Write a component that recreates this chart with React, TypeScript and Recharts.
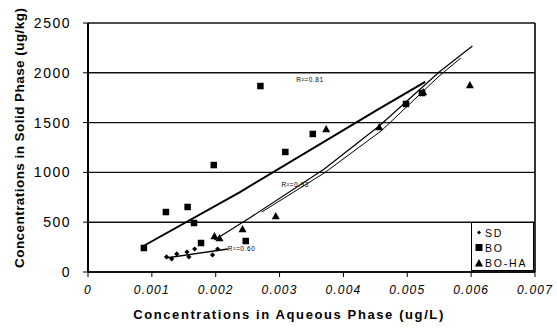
import React from 'react';
import { ScatterChart, Scatter, XAxis, YAxis, CartesianGrid, ReferenceLine, Label } from 'recharts';

const FONT = "Arial, 'Liberation Sans', sans-serif";

const xTicks = [0, 0.001, 0.002, 0.003, 0.004, 0.005, 0.006, 0.007];
const xTickLabels = ['0', '0.001', '0.002', '0.003', '0.004', '0.005', '0.006', '0.007'];
const yTicks = [0, 500, 1000, 1500, 2000, 2500];

const sdPoints = [
  { x: 0.00123, y: 151 },
  { x: 0.00131, y: 131 },
  { x: 0.00139, y: 181 },
  { x: 0.00155, y: 201 },
  { x: 0.00158, y: 151 },
  { x: 0.00167, y: 231 },
  { x: 0.00195, y: 171 },
  { x: 0.00203, y: 231 },
];

const boPoints = [
  { x: 0.000875, y: 241 },
  { x: 0.00122, y: 602 },
  { x: 0.00156, y: 653 },
  { x: 0.00166, y: 492 },
  { x: 0.00177, y: 291 },
  { x: 0.00197, y: 1074 },
  { x: 0.00247, y: 311 },
  { x: 0.0027, y: 1867 },
  { x: 0.00309, y: 1205 },
  { x: 0.00352, y: 1386 },
  { x: 0.00498, y: 1687 },
  { x: 0.00523, y: 1797 },
];

const bohaPoints = [
  { x: 0.00198, y: 361 },
  { x: 0.00206, y: 341 },
  { x: 0.00242, y: 432 },
  { x: 0.00294, y: 562 },
  { x: 0.00373, y: 1436 },
  { x: 0.00456, y: 1456 },
  { x: 0.00525, y: 1807 },
  { x: 0.00598, y: 1878 },
];

const sdFit = [
  { x: 0.00122, y: 141 },
  { x: 0.00219, y: 231 },
];

const boFit = [
  { x: 0.00084, y: 251 },
  { x: 0.00238, y: 803 },
  { x: 0.00453, y: 1627 },
  { x: 0.00528, y: 1908 },
];

const bohaFitA = [
  { x: 0.00198, y: 321 },
  { x: 0.00253, y: 542 },
  { x: 0.0037, y: 1034 },
  { x: 0.00456, y: 1466 },
  { x: 0.0055, y: 2008 },
  { x: 0.00602, y: 2269 },
];

const bohaFitB = [
  { x: 0.00272, y: 602 },
  { x: 0.0037, y: 994 },
  { x: 0.00459, y: 1416 },
  { x: 0.0055, y: 1968 },
  { x: 0.00584, y: 2149 },
];

const rLabels = [
  { x: 0.00326, y: 1920, text: 'R²=0.81' },
  { x: 0.00303, y: 875, text: 'R²=0.93' },
  { x: 0.00219, y: 230, text: 'R²=0.60' },
];

const legendItems = [
  { name: 'SD', symbol: 'diamond' },
  { name: 'BO', symbol: 'square' },
  { name: 'BO-HA', symbol: 'triangle' },
];

const Diamond = (props: any) => {
  const { cx, cy } = props;
  if (cx == null || cy == null) return <g />;
  const r = 2.6;
  return <path d={`M${cx},${cy - r}L${cx + r},${cy}L${cx},${cy + r}L${cx - r},${cy}Z`} fill="#000" />;
};

const Square = (props: any) => {
  const { cx, cy } = props;
  if (cx == null || cy == null) return <g />;
  const s = 6.5;
  return <rect x={cx - s / 2} y={cy - s / 2} width={s} height={s} fill="#000" />;
};

const Triangle = (props: any) => {
  const { cx, cy } = props;
  if (cx == null || cy == null) return <g />;
  const r = 4;
  return <path d={`M${cx},${cy - r}L${cx + r},${cy + r * 0.8}L${cx - r},${cy + r * 0.8}Z`} fill="#000" />;
};

const NoShape = () => <g />;

const RText = (props: any) => {
  const { cx, cy, payload } = props;
  if (cx == null || cy == null) return <g />;
  return (
    <text x={cx} y={cy} fontSize={6.5} fontFamily={FONT} fill="#000" dominantBaseline="middle" letterSpacing={0.6}>
      {payload.text}
    </text>
  );
};

const LegendBox = () => (
  <div
    style={{
      position: 'absolute',
      left: 471,
      top: 222,
      width: 63,
      height: 49,
      border: '1px solid #000',
      background: '#fff',
      fontFamily: FONT,
      fontSize: 10.5,
      letterSpacing: 1.8,
      boxSizing: 'border-box',
      paddingLeft: 3,
      paddingTop: 2,
    }}
  >
    {legendItems.map((it) => (
      <div key={it.name} style={{ height: 15, display: 'flex', alignItems: 'center' }}>
        <svg width={8} height={9} style={{ marginRight: 2 }}>
          {it.symbol === 'diamond' && <path d="M4,2.5L6,4.5L4,6.5L2,4.5Z" fill="#000" />}
          {it.symbol === 'square' && <rect x={0.5} y={1} width={7} height={7} fill="#000" />}
          {it.symbol === 'triangle' && <path d="M4,1L8,8.5L0,8.5Z" fill="#000" />}
        </svg>
        <span>{it.name}</span>
      </div>
    ))}
  </div>
);

const YLabel = () => (
  <text
    transform="translate(24, 268) rotate(-90)"
    textAnchor="start"
    fontFamily={FONT}
    fontWeight="bold"
    fontSize={13.5}
    letterSpacing={0.45}
    fill="#000"
  >
    Concentrations in Solid Phase (ug/kg)
  </text>
);

const XLabel = () => (
  <text x={289} y={319} textAnchor="middle" fontFamily={FONT} fontWeight="bold" fontSize={13} letterSpacing={1.6} fill="#000">
    Concentrations in Aqueous Phase (ug/L)
  </text>
);

export default function App() {
  return (
    <div style={{ position: 'absolute', left: 0, top: 0, width: 557, height: 329, background: '#fff' }}>
      <ScatterChart width={557} height={329} margin={{ top: 23, right: 22, bottom: 27, left: 0 }}>
        <CartesianGrid horizontal={true} vertical={false} stroke="#111" strokeWidth={1.4} />
        <XAxis
          type="number"
          dataKey="x"
          domain={[0, 0.007]}
          ticks={xTicks}
          height={30}
          tickFormatter={(v: number) => xTickLabels[xTicks.findIndex((t) => Math.abs(t - v) < 1e-9)] ?? ''}
          tickSize={5}
          tickMargin={8}
          axisLine={{ stroke: '#000', strokeWidth: 1.6 }}
          tickLine={{ stroke: '#000' }}
          tick={{ fill: '#000', fontSize: 12, fontFamily: FONT, fontStyle: 'italic', letterSpacing: 1.2 }}
          allowDataOverflow
          label={<Label content={XLabel} />}
        />
        <YAxis
          type="number"
          dataKey="y"
          domain={[0, 2500]}
          ticks={yTicks}
          width={88}
          tickSize={5}
          tickMargin={12}
          axisLine={{ stroke: '#000', strokeWidth: 2 }}
          tickLine={{ stroke: '#000' }}
          tick={{ fill: '#000', fontSize: 14, fontFamily: FONT, letterSpacing: 1.5 }}
          allowDataOverflow
          label={<Label content={YLabel} />}
        />
        <ReferenceLine x={0.007} stroke="#000" strokeWidth={1.6} ifOverflow="extendDomain" />
        <Scatter name="BO fit" data={boFit} shape={NoShape} line={{ stroke: '#000', strokeWidth: 2 }} lineType="joint" isAnimationActive={false} />
        <Scatter name="BO-HA fit A" data={bohaFitA} shape={NoShape} line={{ stroke: '#000', strokeWidth: 1.2 }} lineType="joint" isAnimationActive={false} />
        <Scatter name="BO-HA fit B" data={bohaFitB} shape={NoShape} line={{ stroke: '#000', strokeWidth: 1 }} lineType="joint" isAnimationActive={false} />
        <Scatter name="SD fit" data={sdFit} shape={NoShape} line={{ stroke: '#000', strokeWidth: 1.4 }} lineType="joint" isAnimationActive={false} />
        <Scatter name="SD" data={sdPoints} shape={Diamond} isAnimationActive={false} />
        <Scatter name="BO" data={boPoints} shape={Square} isAnimationActive={false} />
        <Scatter name="BO-HA" data={bohaPoints} shape={Triangle} isAnimationActive={false} />
        <Scatter name="R labels" data={rLabels} shape={RText} isAnimationActive={false} />
      </ScatterChart>
      <LegendBox />
    </div>
  );
}
